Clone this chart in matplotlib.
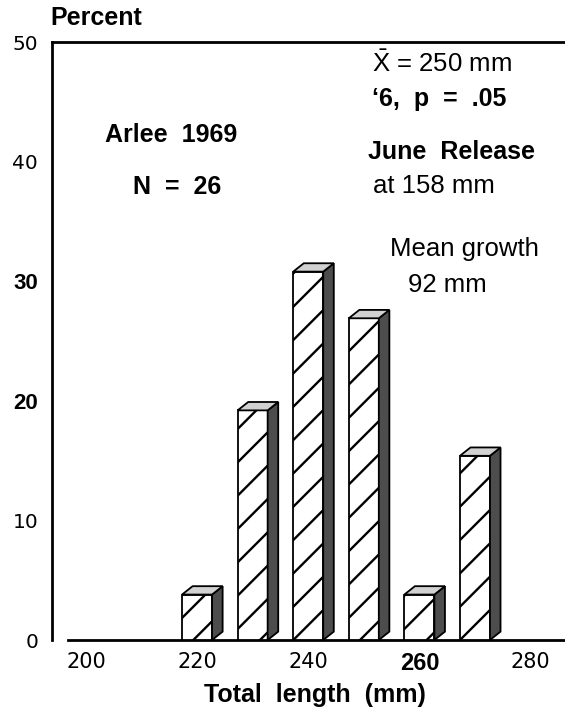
import matplotlib
matplotlib.use("Agg")
import matplotlib.pyplot as plt
from matplotlib.patches import Polygon

# data (Arlee 1969, N = 26)
lengths = [220, 230, 240, 250, 260, 270]
percents = [3.8, 19.2, 30.8, 26.9, 3.8, 15.4]
xticks = [200, 220, 240, 260, 280]
yticks = [0, 10, 20, 30, 40, 50]
bold_x = [260]
bold_y = [30, 20]

BAR_W = 5.4
DX, DY = 1.9, 0.7   # fake 3d depth

plt.rcParams['font.family'] = ['Liberation Sans', 'DejaVu Sans']
plt.rcParams['mathtext.fontset'] = 'custom'
plt.rcParams['mathtext.rm'] = 'Liberation Sans'
plt.rcParams['hatch.linewidth'] = 1.7

fig = plt.figure(figsize=(5.65, 7.14), dpi=100)
ax = fig.add_axes([52 / 565, 74 / 714, 1 - 52 / 565, 598 / 714])

ax.bar(lengths, percents, width=BAR_W, facecolor='white', edgecolor='black',
       hatch='/', linewidth=1.3, zorder=3)
for x, h in zip(lengths, percents):
    r = x + BAR_W / 2
    l = x - BAR_W / 2
    side = Polygon([(r, 0), (r + DX, DY), (r + DX, h + DY), (r, h)],
                   closed=True, facecolor='0.3', edgecolor='black', lw=1.3, zorder=3)
    top = Polygon([(l, h), (l + DX, h + DY), (r + DX, h + DY), (r, h)],
                  closed=True, facecolor='0.82', edgecolor='black', lw=1.3, zorder=3)
    ax.add_patch(side)
    ax.add_patch(top)

ax.set_xlim(193.9, 286.2)
ax.set_ylim(0, 50)

ax.spines['right'].set_visible(False)
for s in ['left', 'top', 'bottom']:
    ax.spines[s].set_linewidth(2)
ax.spines['bottom'].set_bounds(196.8, 286.2)

ax.set_xticks(xticks)
ax.set_yticks(yticks)
ax.tick_params(length=0)
ax.tick_params(axis='x', pad=9)
ax.tick_params(axis='y', pad=10)
ax.set_xticklabels([str(v) for v in xticks])
ax.set_yticklabels([str(v) for v in yticks])
for lab, v in zip(ax.get_xticklabels(), xticks):
    if v in bold_x:
        lab.set_fontfamily('Liberation Sans')
        lab.set_fontweight('bold')
        lab.set_fontsize(17)
    else:
        lab.set_fontfamily('DejaVu Sans')
        lab.set_fontsize(15)
for lab, v in zip(ax.get_yticklabels(), yticks):
    if v in bold_y:
        lab.set_fontfamily('Liberation Sans')
        lab.set_fontweight('bold')
        lab.set_fontsize(16)
    else:
        lab.set_fontfamily('DejaVu Sans')
        lab.set_fontsize(14.5)

fig.text(50 / 565, 1 - 18 / 714, 'Percent', fontsize=18, fontweight='bold',
         ha='left', va='center')
fig.text(315 / 565, 1 - 695 / 714, 'Total  length  (mm)', fontsize=18,
         fontweight='bold', ha='center', va='center')

kw = dict(fontsize=18, fontweight='bold', va='center')
ax.text(215.3, 42.2, 'Arlee  1969', ha='center', **kw)
ax.text(216.4, 37.9, 'N  =  26', ha='center', **kw)
ax.text(251.4, 48.2, r'$\bar{\mathrm{X}}$ = 250 mm', ha='left', fontsize=18.5, va='center')
ax.text(251.4, 45.2, '\u20186,  p  =  .05', ha='left', **kw)
ax.text(250.7, 40.8, 'June  Release', ha='left', **kw)
ax.text(251.6, 38.0, 'at 158 mm', ha='left', fontsize=18.5, va='center')
ax.text(254.7, 32.7, 'Mean growth', ha='left', fontsize=18.5, va='center')
ax.text(257.9, 29.7, '92 mm', ha='left', fontsize=18.5, va='center')

fig.savefig('out.png', dpi=100)
